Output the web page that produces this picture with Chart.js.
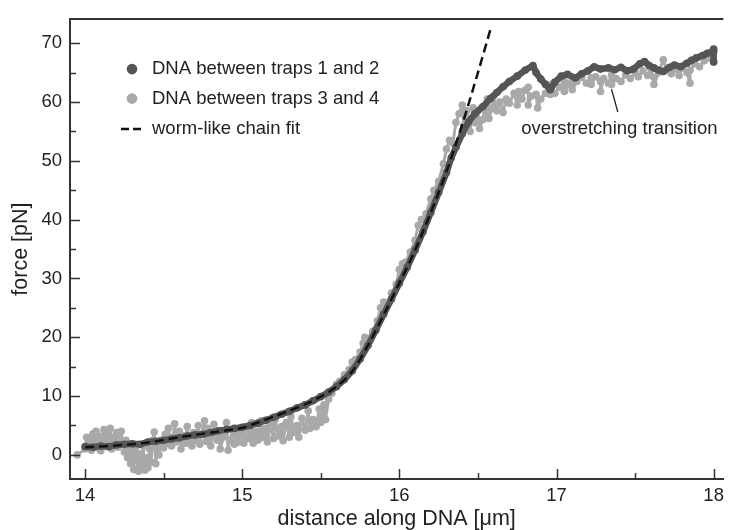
<!DOCTYPE html>
<html>
<head>
<meta charset="utf-8">
<script src="https://cdn.jsdelivr.net/npm/chart.js@4.4.1/dist/chart.umd.min.js"></script>
<style>
  html, body { margin: 0; padding: 0; background: #fff; }
  #wrap { width: 730px; height: 530px; }
</style>
</head>
<body>
<div id="wrap"><canvas id="c" width="730" height="530"></canvas></div>
<script>
// ---- data ----
const xTicks = [14, 14.5, 15, 15.5, 16, 16.5, 17, 17.5, 18];
const yTicks = [0, 5, 10, 15, 20, 25, 30, 35, 40, 45, 50, 55, 60, 65, 70];

const labelDark = 'DNA between traps 1 and 2';
const labelLight = 'DNA between traps 3 and 4';
const labelFit = 'worm-like chain fit';
const annotationText = 'overstretching transition';

const darkSeries = [
  [14.00,1.4],[14.05,1.3],[14.10,1.5],[14.15,1.4],[14.20,1.7],[14.25,1.8],[14.30,1.9],[14.35,1.8],
  [14.40,2.2],[14.45,2.3],[14.50,2.5],[14.55,2.7],[14.60,2.9],[14.65,3.2],[14.70,3.4],[14.75,3.5],
  [14.80,3.8],[14.85,4.1],[14.90,4.3],[14.95,4.5],[15.00,4.7],[15.05,5.0],[15.10,5.4],[15.15,5.9],
  [15.20,6.4],[15.25,6.9],[15.30,7.4],[15.35,8.0],[15.40,8.5],[15.45,9.2],[15.50,9.9],[15.55,10.7],
  [15.60,11.6],[15.65,12.8],[15.70,14.3],[15.75,16.3],[15.80,18.6],[15.85,21.2],[15.90,23.9],
  [15.95,26.5],[16.00,29.2],[16.05,31.9],[16.10,34.8],[16.15,37.9],[16.20,41.2],[16.25,44.6],
  [16.30,48.0],[16.33,50.5],[16.36,52.3],[16.40,54.6],[16.44,56.6],[16.48,58.0],[16.53,59.2],
  [16.58,60.6],[16.62,61.6],[16.66,62.6],[16.70,63.5],[16.75,64.4],[16.80,65.4],[16.85,66.2],
  [16.87,65.0],[16.90,63.9],[16.93,63.0],[16.96,62.1],[16.99,63.4],[17.03,64.4],[17.07,64.7],
  [17.12,64.1],[17.16,64.8],[17.20,65.3],[17.24,66.0],[17.28,65.6],[17.33,65.8],[17.37,65.5],
  [17.41,65.9],[17.45,65.3],[17.49,65.6],[17.53,66.5],[17.56,66.9],[17.59,66.2],[17.62,65.8],
  [17.65,65.4],[17.68,65.2],[17.72,65.9],[17.75,66.3],[17.79,66.0],[17.83,66.6],[17.86,67.1],
  [17.89,67.5],[17.93,67.9],[17.96,68.3],[18.00,68.7],[18.00,66.8],[18.00,69.0]
];

const lightSeries = [
  [13.95,0.0],[14.00,1.0],[14.01,3.0],[14.02,1.5],[14.03,2.8],[14.04,0.8],[14.05,3.6],[14.06,2.0],
  [14.07,4.0],[14.08,1.2],[14.09,3.2],[14.10,0.7],[14.11,2.5],[14.12,4.3],[14.13,1.6],[14.14,3.5],
  [14.15,2.2],[14.16,4.5],[14.17,1.0],[14.18,3.0],[14.19,2.0],[14.20,3.8],[14.21,1.3],[14.22,2.6],
  [14.23,4.0],[14.24,1.8],
  [14.25,0.5],[14.26,2.5],[14.27,-0.5],[14.28,1.8],[14.29,-1.5],[14.30,0.8],[14.31,-2.5],[14.32,1.2],
  [14.33,-1.0],[14.34,-2.8],[14.35,0.2],[14.36,-2.0],[14.37,1.5],[14.38,-2.6],[14.39,-0.5],[14.40,-2.2],
  [14.41,1.0],[14.42,-1.2],[14.43,2.5],[14.44,3.9],[14.45,-1.5],[14.46,1.8],[14.47,0.0],
  [14.48,2.5],[14.50,1.2],[14.51,3.5],[14.52,2.0],[14.53,4.5],[14.55,1.5],[14.56,3.0],[14.57,5.3],
  [14.58,2.2],[14.60,4.0],[14.61,1.0],[14.62,3.3],[14.64,2.0],[14.65,4.8],[14.66,2.8],[14.68,1.5],
  [14.69,3.8],[14.70,2.5],[14.72,5.0],[14.73,1.8],[14.74,3.5],[14.76,5.8],[14.77,2.3],[14.78,4.5],
  [14.80,1.5],[14.81,3.2],[14.82,5.2],[14.84,2.5],[14.85,4.0],[14.86,1.0],[14.88,3.0],[14.90,5.5],
  [14.91,0.8],[14.92,2.5],[14.94,4.2],[14.95,1.8],[14.97,3.5],[14.98,2.2],[15.00,4.5],
  [15.01,2.0],[15.03,4.8],[15.04,2.8],[15.06,5.5],[15.07,2.0],[15.09,4.0],[15.10,2.5],[15.12,5.8],
  [15.13,3.0],[15.15,4.5],[15.16,2.2],[15.18,5.0],[15.20,2.8],[15.21,6.0],[15.23,3.2],[15.25,4.8],
  [15.26,2.4],[15.28,5.5],[15.30,3.0],[15.31,6.5],[15.33,3.8],[15.35,5.0],[15.36,3.0],[15.38,6.2],
  [15.40,4.2],[15.42,7.5],[15.43,4.5],[15.45,6.0],[15.47,4.8],[15.49,7.8],[15.50,5.5],[15.52,8.5],
  [15.53,6.0],[15.55,9.5],
  [15.57,10.5],[15.60,12.0],[15.62,12.5],[15.65,13.6],[15.68,14.5],[15.70,15.8],[15.72,16.2],
  [15.75,17.5],[15.77,19.0],[15.78,20.0],[15.80,19.8],[15.83,21.0],[15.86,22.8],[15.88,25.0],
  [15.90,26.0],[15.92,25.8],[15.95,27.5],[15.98,29.0],[16.00,31.5],[16.02,32.5],[16.04,32.8],
  [16.07,34.5],[16.10,36.5],[16.12,39.0],[16.14,40.0],[16.17,41.0],[16.20,43.5],[16.22,45.0],
  [16.25,46.5],[16.28,49.5],[16.30,52.0],[16.32,53.5],[16.34,53.0],
  [16.36,56.5],[16.38,58.0],[16.40,59.5],[16.41,56.0],[16.43,58.5],[16.45,55.0],[16.47,59.0],
  [16.48,56.5],[16.50,58.5],[16.51,55.5],[16.53,57.0],[16.55,58.0],[16.56,60.5],[16.57,57.2],
  [16.59,59.0],[16.60,61.0],[16.62,58.5],[16.64,60.0],[16.66,58.2],[16.68,60.5],[16.70,59.8],
  [16.73,61.5],[16.75,59.5],[16.76,61.8],[16.78,60.5],[16.80,62.0],[16.82,62.5],[16.82,59.5],
  [16.84,61.0],[16.87,61.3],[16.88,59.0],[16.90,60.5],[16.93,61.5],[16.96,61.3],[16.97,63.0],
  [16.99,61.5],
  [17.02,62.5],[17.05,63.5],[17.05,61.8],[17.08,63.0],[17.10,63.8],[17.10,62.1],[17.13,63.5],
  [17.16,64.2],[17.19,63.2],[17.22,64.1],[17.22,63.0],[17.25,64.3],[17.28,63.5],[17.28,61.8],
  [17.30,64.0],[17.33,63.2],[17.35,64.6],[17.35,63.0],[17.38,64.0],[17.41,63.5],[17.44,64.6],
  [17.47,64.0],[17.50,65.0],[17.52,64.3],[17.55,65.3],[17.58,64.5],[17.60,65.6],[17.62,64.2],
  [17.62,63.0],[17.65,65.0],[17.68,67.2],[17.70,65.5],[17.73,64.8],[17.76,65.6],[17.78,64.5],
  [17.80,65.8],[17.83,65.0],[17.85,63.2],[17.85,65.4],[17.88,66.5],[17.91,66.0],[17.94,67.0],
  [17.97,67.5],[18.00,66.8],[18.00,68.5]
];

const wlcFit = [
  [14.0,1.3],[14.2,1.6],[14.4,2.1],[14.6,3.0],[14.8,3.8],[15.0,4.6],[15.1,5.5],[15.2,6.5],
  [15.3,7.5],[15.4,8.6],[15.5,9.9],[15.6,11.6],[15.7,14.2],[15.8,18.6],[15.9,23.8],[16.0,29.2],
  [16.1,34.8],[16.2,41.2],[16.3,48.2],[16.4,56.2],[16.5,65.0],[16.58,72.4]
];

// annotation anchors (data coordinates)
const annotationLine = [[17.35, 62.2], [17.39, 58.3]];
const annotationAnchor = [16.775, 55.4];

// ---- styling ----
const FONT = '"Liberation Sans", Arial, Helvetica, sans-serif';
const DARK = '#555555';
const LIGHT = '#a9a9a9';
const AXIS = '#333333';
const TEXT = '#222222';

const toXY = arr => arr.map(p => ({ x: p[0], y: p[1] }));

const customPlugin = {
  id: 'custom',
  afterDraw(chart) {
    const ctx = chart.ctx;
    const ca = chart.chartArea;
    const xs = chart.scales.x, ys = chart.scales.y;
    ctx.save();
    // top frame line
    ctx.strokeStyle = AXIS;
    ctx.lineWidth = 2;
    ctx.beginPath();
    ctx.moveTo(ca.left - 1, ca.top);
    ctx.lineTo(ca.right, ca.top);
    ctx.stroke();
    // inward tick marks
    ctx.lineWidth = 1.5;
    xTicks.forEach(v => {
      const px = Math.round(xs.getPixelForValue(v)) + 0.5;
      const len = Number.isInteger(v) ? 10 : 6;
      ctx.beginPath();
      ctx.moveTo(px, ca.bottom);
      ctx.lineTo(px, ca.bottom - len);
      ctx.stroke();
    });
    yTicks.forEach(v => {
      const py = Math.round(ys.getPixelForValue(v)) + 0.5;
      const len = v % 10 === 0 ? 10 : 6;
      ctx.beginPath();
      ctx.moveTo(ca.left, py);
      ctx.lineTo(ca.left + len, py);
      ctx.stroke();
    });
    // legend
    const mx = ca.left + 62, tx = ca.left + 82;
    const rows = [ca.top + 50, ca.top + 79.5, ca.top + 110];
    ctx.font = '18.5px ' + FONT;
    ctx.textBaseline = 'middle';
    ctx.textAlign = 'left';
    ctx.fillStyle = DARK;
    ctx.beginPath(); ctx.arc(mx, rows[0], 5.3, 0, Math.PI * 2); ctx.fill();
    ctx.fillStyle = LIGHT;
    ctx.beginPath(); ctx.arc(mx, rows[1], 5.3, 0, Math.PI * 2); ctx.fill();
    ctx.strokeStyle = '#111';
    ctx.lineWidth = 2.5;
    ctx.setLineDash([8, 4]);
    ctx.beginPath(); ctx.moveTo(mx - 11, rows[2]); ctx.lineTo(mx + 10, rows[2]); ctx.stroke();
    ctx.setLineDash([]);
    ctx.fillStyle = TEXT;
    const ds = chart.data.datasets;
    ctx.fillText(ds[1].label, tx, rows[0]);
    ctx.fillText(ds[2].label, tx, rows[1]);
    ctx.fillText(ds[0].label, tx, rows[2]);
    // annotation
    ctx.strokeStyle = '#222';
    ctx.lineWidth = 1.3;
    ctx.beginPath();
    ctx.moveTo(xs.getPixelForValue(annotationLine[0][0]), ys.getPixelForValue(annotationLine[0][1]));
    ctx.lineTo(xs.getPixelForValue(annotationLine[1][0]), ys.getPixelForValue(annotationLine[1][1]));
    ctx.stroke();
    ctx.fillText(annotationText, xs.getPixelForValue(annotationAnchor[0]), ys.getPixelForValue(annotationAnchor[1]));
    ctx.restore();
  }
};

new Chart(document.getElementById('c'), {
  type: 'scatter',
  data: {
    datasets: [
      {
        label: labelFit,
        data: toXY(wlcFit),
        showLine: true,
        borderColor: '#111111',
        borderWidth: 2.5,
        borderDash: [9, 5],
        pointRadius: 0,
        tension: 0.3,
        order: 0
      },
      {
        label: labelDark,
        data: toXY(darkSeries),
        showLine: true,
        borderColor: DARK,
        borderWidth: 6.5,
        borderJoinStyle: 'round',
        borderCapStyle: 'round',
        backgroundColor: DARK,
        pointBackgroundColor: DARK,
        pointBorderWidth: 0,
        pointRadius: 3.8,
        order: 1
      },
      {
        label: labelLight,
        data: toXY(lightSeries),
        showLine: true,
        borderColor: LIGHT,
        borderWidth: 3,
        borderJoinStyle: 'round',
        borderCapStyle: 'round',
        backgroundColor: LIGHT,
        pointBackgroundColor: LIGHT,
        pointBorderWidth: 0,
        pointRadius: 3.8,
        order: 2
      }
    ]
  },
  options: {
    responsive: false,
    animation: false,
    devicePixelRatio: 1,
    layout: { padding: { top: 14, right: 0, left: 0, bottom: 0 } },
    plugins: { legend: { display: false }, tooltip: { enabled: false } },
    scales: {
      x: {
        type: 'linear',
        min: 13.904,
        max: 18.062,
        afterBuildTicks: s => { s.ticks = xTicks.map(v => ({ value: v })); },
        afterFit: s => { s.height = 51; },
        grid: { drawOnChartArea: false, drawTicks: false },
        border: { display: true, color: AXIS, width: 2 },
        ticks: {
          autoSkip: false, maxRotation: 0, padding: 6, color: TEXT,
          font: { family: FONT, size: 18.5 },
          callback: v => Number.isInteger(v) ? String(v) : ''
        },
        title: {
          display: true, text: 'distance along DNA [μm]', color: TEXT,
          font: { family: FONT, size: 21.5, lineHeight: 1 }, padding: { top: 0, bottom: 0 }
        }
      },
      y: {
        type: 'linear',
        min: -4.1,
        max: 74.1,
        afterBuildTicks: s => { s.ticks = yTicks.map(v => ({ value: v })); },
        afterFit: s => { s.width = 70; },
        grid: { drawOnChartArea: false, drawTicks: false },
        border: { display: true, color: AXIS, width: 2 },
        ticks: {
          autoSkip: false, padding: 8, color: TEXT,
          font: { family: FONT, size: 18.5 },
          callback: v => v % 10 === 0 ? String(v) : ''
        },
        title: {
          display: true, text: 'force [pN]', color: TEXT,
          font: { family: FONT, size: 21.5 }, padding: { top: 8, bottom: 0 }
        }
      }
    }
  },
  plugins: [customPlugin]
});
</script>
</body>
</html>
